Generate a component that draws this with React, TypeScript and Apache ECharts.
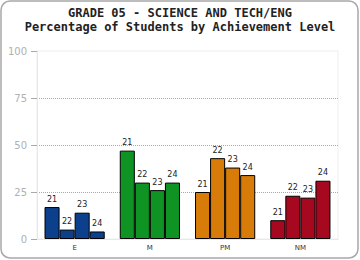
import React, { useEffect, useRef } from "react";
import * as echarts from "echarts";

const categories = ["E", "M", "PM", "NM"];
const years = ["21", "22", "23", "24"];
const values21 = [17, 47, 25, 10];
const values22 = [5, 30, 43, 23];
const values23 = [14, 26, 38, 22];
const values24 = [4, 30, 34, 31];
const categoryColors = ["#0c3f8c", "#0f9424", "#d77c08", "#a6081f"];
const titleText = "GRADE 05 - SCIENCE AND TECH/ENG";
const subtitleText = "Percentage of Students by Achievement Level";

export default function App() {
  const ref = useRef<HTMLDivElement>(null);
  useEffect(() => {
    if (!ref.current) return;
    const chart = echarts.init(ref.current, undefined, { renderer: "svg" });
    const all = [values21, values22, values23, values24];
    chart.setOption({
      animation: false,
      backgroundColor: "#fff",
      graphic: [
        {
          type: "rect",
          shape: { x: 1, y: 1, width: 357, height: 257, r: 9 },
          style: { fill: "none", stroke: "#a8a8a8", lineWidth: 1.5 },
          z: -1,
        },
        {
          type: "text",
          x: 180,
          y: 12.5,
          style: {
            text: titleText,
            font: "bold 12px 'DejaVu Sans Mono'",
            fill: "#222",
            textAlign: "center",
            textVerticalAlign: "middle",
          },
        },
        {
          type: "text",
          x: 180,
          y: 26.5,
          style: {
            text: subtitleText,
            font: "bold 12px 'DejaVu Sans Mono'",
            fill: "#222",
            textAlign: "center",
            textVerticalAlign: "middle",
          },
        },
      ],
      grid: {
        left: 37,
        right: 22,
        top: 51,
        bottom: 21,
        show: true,
        borderColor: "#eeeeee",
        borderWidth: 1,
      },
      xAxis: {
        type: "category",
        data: categories,
        axisLine: { show: true, lineStyle: { color: "#e8e8e8" } },
        axisTick: { show: false },
        axisLabel: {
          fontSize: 7,
          color: "#333",
          fontFamily: "'DejaVu Sans'",
          margin: 5,
        },
      },
      yAxis: {
        type: "value",
        min: 0,
        max: 100,
        interval: 25,
        axisLine: { show: true, lineStyle: { color: "#e8e8e8" } },
        axisTick: { show: true, length: 6, lineStyle: { color: "#aaa" } },
        axisLabel: {
          fontSize: 10,
          color: "#b0b0b0",
          fontFamily: "'DejaVu Sans'",
          margin: 10,
        },
        splitLine: {
          show: true,
          lineStyle: {
            type: "dotted",
            color: ["transparent", "#aaa", "#aaa", "#aaa", "transparent"],
          },
        },
      },
      series: years.map((y, si) => ({
        name: y,
        type: "bar",
        barGap: "0%",
        barCategoryGap: "20%",
        data: all[si].map((v, i) => ({
          value: v,
          itemStyle: { color: categoryColors[i] },
        })),
        itemStyle: { borderColor: "#000", borderWidth: 1 },
        label: {
          show: true,
          position: "top",
          distance: 4,
          formatter: y,
          fontSize: 8,
          color: "#222",
          fontFamily: "'DejaVu Sans'",
        },
      })),
    });
    return () => chart.dispose();
  }, []);
  return (
    <div
      ref={ref}
      style={{ position: "fixed", left: 0, top: 0, width: 360, height: 260 }}
    />
  );
}
